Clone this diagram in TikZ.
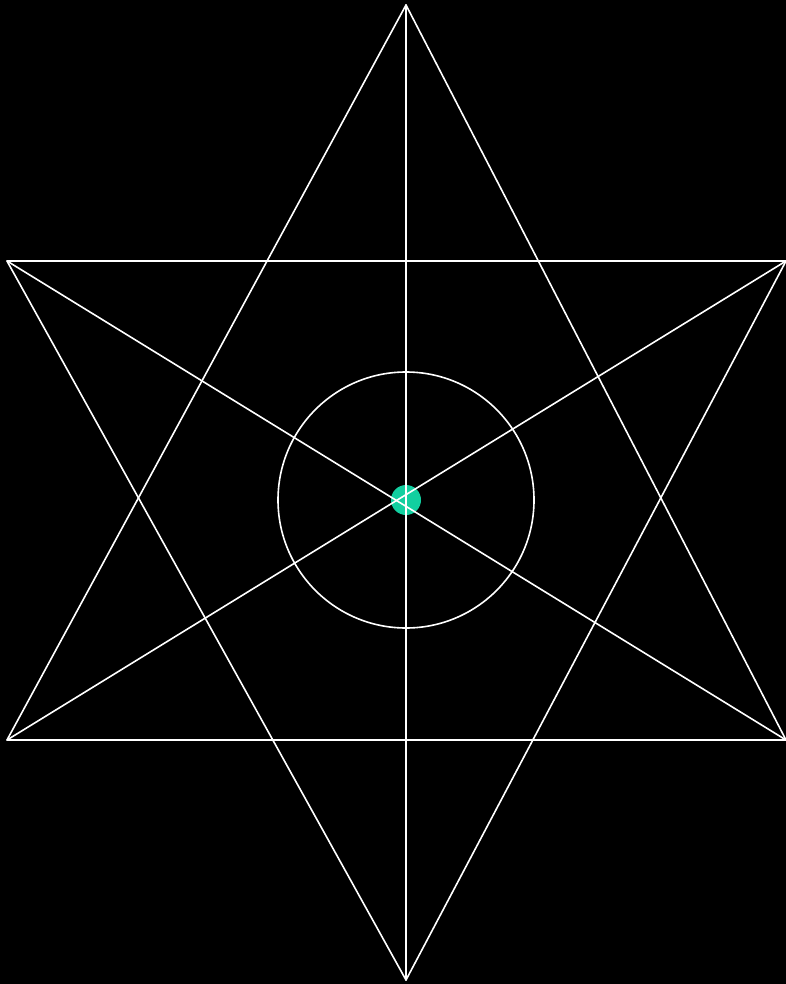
\documentclass[tikz,border=0pt]{standalone}
\usepackage{tikz}
\usetikzlibrary{positioning}
\definecolor{StarInk}{HTML}{000000}
\definecolor{StarLine}{HTML}{FFFFFF}
\definecolor{StarMint}{HTML}{12CFA0}

\begin{document}
\begin{tikzpicture}[
      x=1pt,y=-1pt,
      edge/.style={draw=StarLine,line width=1.6pt,line cap=round,line join=round},
      ring/.style={circle,draw=StarLine,line width=1.6pt,minimum size=256pt,inner sep=0pt},
      hub/.style={circle,fill=StarMint,minimum size=30pt,inner sep=0pt}
    ]
      \fill[StarInk] (0,0) rectangle (786,984);
      \useasboundingbox (0,0) rectangle (786,984);
      % star points
      \coordinate (top) at (406,5);
      \coordinate (bot) at (406,980);
      \coordinate (ul) at (7,261);
      \coordinate (ur) at (786,261);
      \coordinate (ll) at (7,740);
      \coordinate (lr) at (786,740);
      \node[hub] (hub) at (406,500) {};
      \node[ring] (ring) at (406,500) {};
      \draw[edge] (top) -- (ll) -- (lr) -- cycle;
      \draw[edge] (bot) -- (ul) -- (ur) -- cycle;
      \draw[edge] (top) -- (bot);
      \draw[edge] (ul) -- (lr);
      \draw[edge] (ll) -- (ur);
    \end{tikzpicture}
\end{document}
